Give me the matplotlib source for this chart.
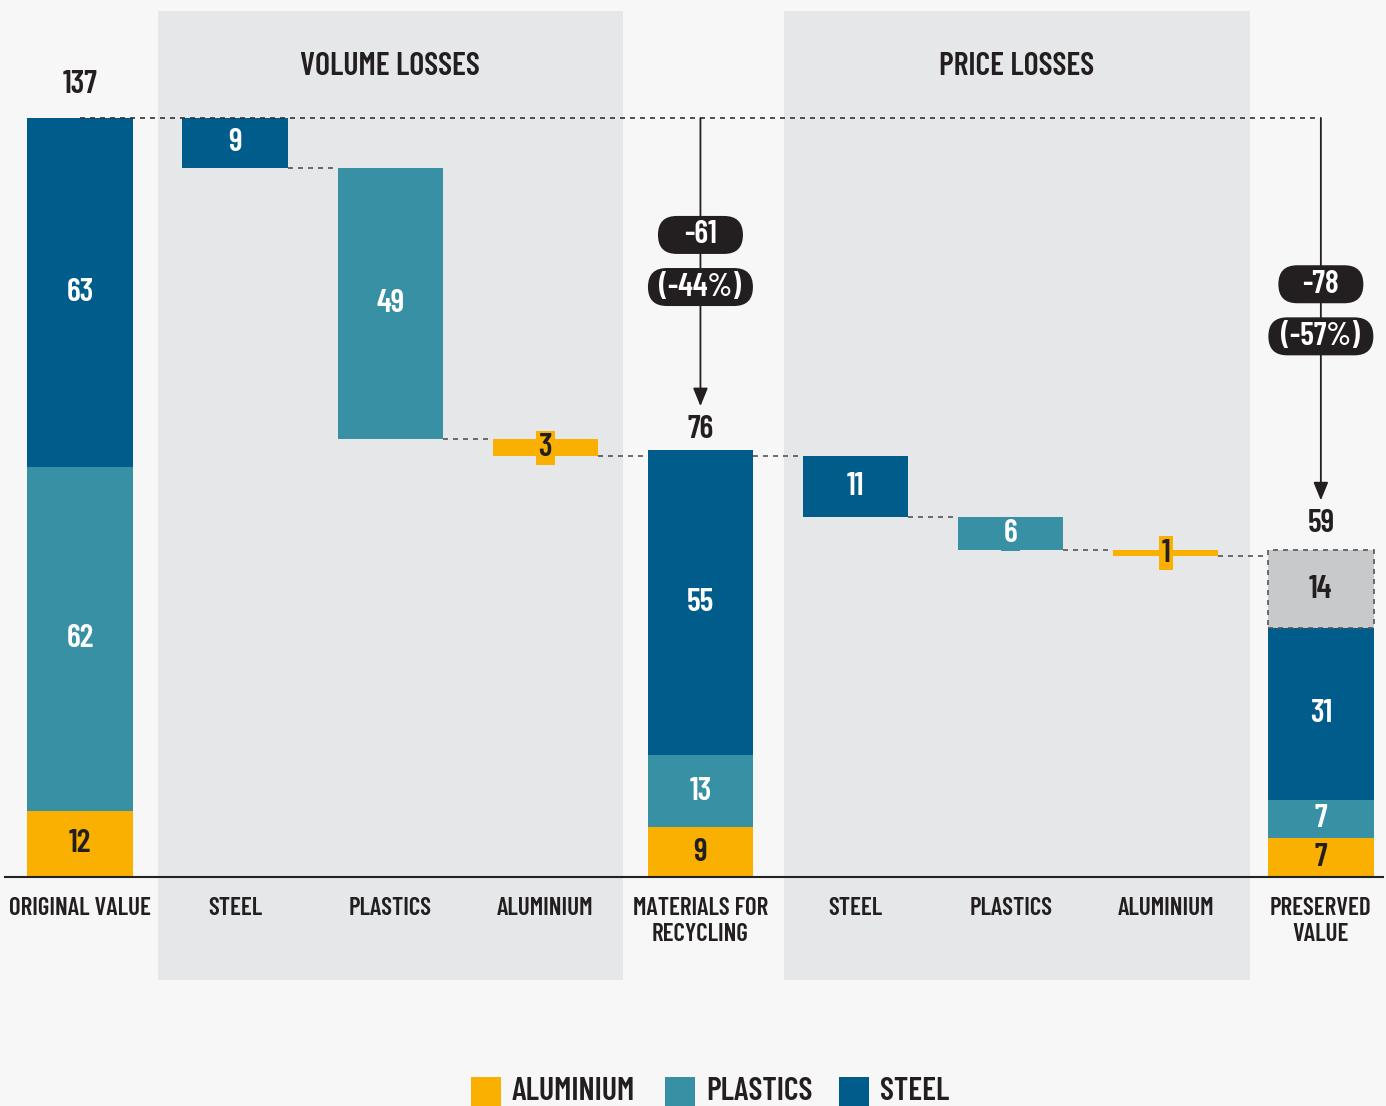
import matplotlib.pyplot as plt
from matplotlib.patches import Rectangle, FancyBboxPatch

plt.rcParams['font.family'] = ['Barlow Condensed', 'DejaVu Sans']

categories = ['ORIGINAL VALUE', 'STEEL', 'PLASTICS', 'ALUMINIUM',
              'MATERIALS FOR\nRECYCLING', 'STEEL', 'PLASTICS', 'ALUMINIUM',
              'PRESERVED\nVALUE']
materials = ['ALUMINIUM', 'PLASTICS', 'STEEL']
original_values = [12, 62, 63]          # aluminium, plastics, steel
volume_losses = [9, 49, 3]              # steel, plastics, aluminium
recycling_values = [9, 13, 55]          # aluminium, plastics, steel
price_losses = [11, 6, 1]               # steel, plastics, aluminium
preserved_values = [7, 7, 31]           # aluminium, plastics, steel
preserved_other = 14
totals = [137, 76, 59]
change_labels = [('-61', '(-44%)'), ('-78', '(-57%)')]
panel_titles = ['VOLUME LOSSES', 'PRICE LOSSES']

colors = {'ALUMINIUM': '#f9b000', 'PLASTICS': '#3790a3', 'STEEL': '#005c8a'}
text_colors = {'ALUMINIUM': '#231f20', 'PLASTICS': 'white', 'STEEL': 'white'}
dark = '#231f20'
bg = '#f7f7f7'
panel = '#e6e7e9'
W = 0.68
FW = 'semibold'
PX_X = 155.1   # pixels per x unit
PX_Y = 5.54    # pixels per y unit

fig = plt.figure(figsize=(13.86, 11.06), dpi=100, facecolor=bg)
ax = fig.add_axes([0, 0, 1, 1])
ax.set_facecolor(bg)
ax.set_xlim(-0.516, 8.42)
ax.set_ylim(-41.3, 158.3)
ax.axis('off')

# shaded panels
for x0, title in zip([0.5, 4.54], panel_titles):
    ax.add_patch(Rectangle((x0, -18.6), 3.0, 175, color=panel, zorder=0, lw=0))
    ax.text(x0 + 1.5, 146.3, title, ha='center', va='center', fontsize=23,
            fontweight=FW, color=dark)

def seg_label(x, y, val, color, tcolor, box=False):
    kw = {}
    if box:
        kw['bbox'] = dict(boxstyle='square,pad=0.08', fc=color, ec='none')
    ax.text(x, y, str(val), ha='center', va='center', fontsize=23,
            fontweight=FW, color=tcolor, zorder=5, **kw)

def stacked(x, values, order):
    bottom = 0
    for v, m in zip(values, order):
        ax.bar(x, v, bottom=bottom, width=W, color=colors[m], zorder=2, lw=0)
        seg_label(x, bottom + v / 2, v, colors[m], text_colors[m])
        bottom += v
    return bottom

def losses(x_start, level, values, order):
    for i, (v, m) in enumerate(zip(values, order)):
        x = x_start + i
        ax.bar(x, v, bottom=level - v, width=W, color=colors[m], zorder=2, lw=0)
        seg_label(x, level - v / 2, v, colors[m], text_colors[m], box=v < 8)
        level -= v
        ax.plot([x + W / 2, x + 1 - W / 2], [level, level], ls=(0, (3, 3)),
                color='#555555', lw=1.2, zorder=1)
    return level

stacked(0, original_values, materials)
losses(1, totals[0], volume_losses, ['STEEL', 'PLASTICS', 'ALUMINIUM'])
stacked(4, recycling_values, materials)
ax.plot([4 + W / 2, 5 - W / 2], [totals[1], totals[1]], ls=(0, (3, 3)),
        color='#555555', lw=1.2, zorder=1)
losses(5, totals[1], price_losses, ['STEEL', 'PLASTICS', 'ALUMINIUM'])
top = stacked(8, preserved_values, materials)
ax.bar(8, preserved_other, bottom=top, width=W, color='#c8c9cb', ec='#555555',
       ls=(0, (3, 3)), lw=1.2, zorder=2)
seg_label(8, top + preserved_other / 2, preserved_other, '#c8c9cb', dark)

# top dashed reference line
ax.plot([0, 8], [totals[0], totals[0]], ls=(0, (3, 3)), color='#333333',
        lw=1.2, zorder=3)

# total labels and arrows
ax.text(0, totals[0] + 6, str(totals[0]), ha='center', va='center',
        fontsize=23, fontweight=FW, color=dark)
for x, t in zip([4, 8], totals[1:]):
    ax.text(x, t + 4.8, str(t), ha='center', va='center', fontsize=23,
            fontweight=FW, color=dark)
    ax.annotate('', xy=(x, t + 9.0), xytext=(x, totals[0]),
                arrowprops=dict(arrowstyle='-|>,head_width=0.45,head_length=1.1',
                                color=dark, lw=1.3, shrinkA=0, shrinkB=0),
                zorder=3)

# change pills (stadium shapes)
pill_h = 38 / PX_Y
for x, y, (a, b) in zip([4, 8], [115.9, 107.0], change_labels):
    for yy, s, wpx in [(y, a, 85), (y - 9.4, b, 105)]:
        w = wpx / PX_X
        ax.add_patch(FancyBboxPatch(
            (x - w / 2, yy - pill_h / 2), w, pill_h,
            boxstyle=f'round,pad=0,rounding_size={19 / PX_X}',
            mutation_aspect=PX_X / PX_Y, fc=dark, ec='none', zorder=5))
        ax.text(x, yy, s, ha='center', va='center', fontsize=23,
                fontweight=FW, color='white', zorder=6)

# baseline
ax.plot([-0.484, 8.4], [0, 0], color='#222222', lw=1.5, zorder=3)

# category labels
for i, c in enumerate(categories):
    ax.text(i, -3.6, c, ha='center', va='top', fontsize=18, fontweight=FW,
            color=dark, linespacing=1.15)

# legend
lx = [471, 665, 839]
for x, m in zip(lx, materials):
    fig.patches.append(Rectangle((x / 1386, 0), 30 / 1386, 29 / 1106,
                                 transform=fig.transFigure, color=colors[m], lw=0))
    fig.text((x + 41) / 1386, 14 / 1106, m, ha='left', va='center',
             fontsize=23, fontweight=FW, color=dark)

fig.savefig('out.png', dpi=100, facecolor=bg)
